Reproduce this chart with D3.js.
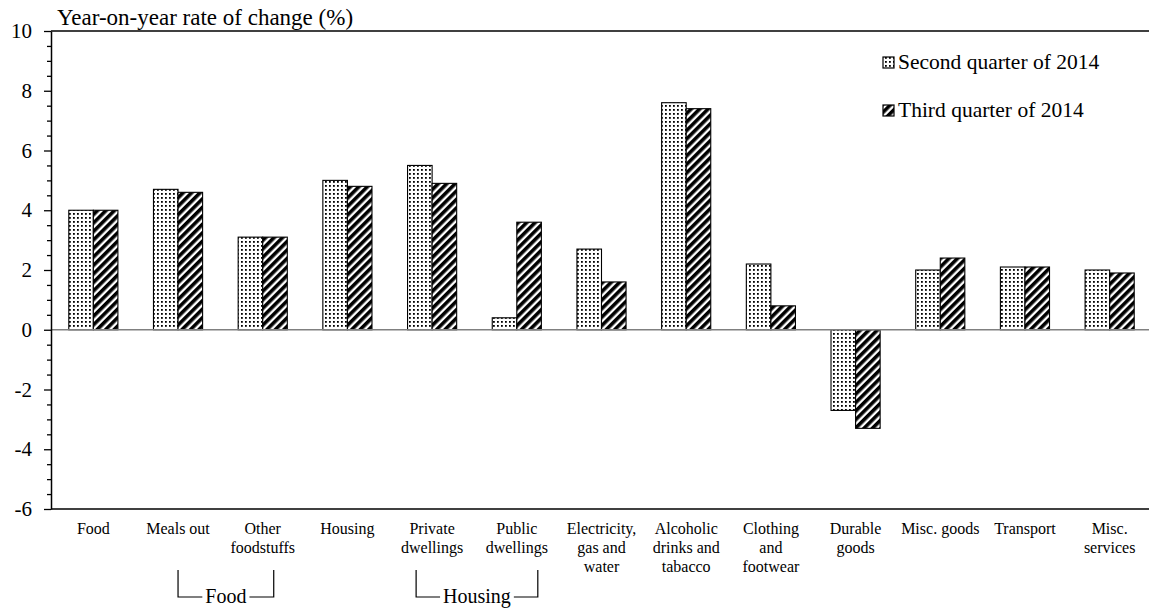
<!DOCTYPE html>
<html><head><meta charset="utf-8">
<script src="https://cdn.jsdelivr.net/npm/d3@7"></script>
<style>
html,body{margin:0;padding:0;background:#fff;}
svg{display:block;}
svg text{font-family:"Liberation Serif","Times New Roman",serif !important;fill:#000;}
</style></head>
<body>
<svg id="chart" width="1149" height="610"></svg>
<script>
const categories = ["Food","Meals out","Other foodstuffs","Housing","Private dwellings","Public dwellings","Electricity, gas and water","Alcoholic drinks and tabacco","Clothing and footwear","Durable goods","Misc. goods","Transport","Misc. services"];
const categoryLines = [["Food"],["Meals out"],["Other","foodstuffs"],["Housing"],["Private","dwellings"],["Public","dwellings"],["Electricity,","gas and","water"],["Alcoholic","drinks and","tabacco"],["Clothing","and","footwear"],["Durable","goods"],["Misc. goods"],["Transport"],["Misc.","services"]];
const seriesNames = ["Second quarter of 2014","Third quarter of 2014"];
const q2 = [4.0,4.7,3.1,5.0,5.5,0.4,2.7,7.6,2.2,-2.7,2.0,2.1,2.0];
const q3 = [4.0,4.6,3.1,4.8,4.9,3.6,1.6,7.4,0.8,-3.3,2.4,2.1,1.9];
const yMajorTicks = [-6,-4,-2,0,2,4,6,8,10];
const yTitle = "Year-on-year rate of change (%)";
const groups = [{label:"Food", from:"Meals out", to:"Other foodstuffs", dl:0, dr:11},
                {label:"Housing", from:"Private dwellings", to:"Public dwellings", dl:-16, dr:21}];

const svg = d3.select("#chart");
const L = 51, R = 1152, T = 31, B = 509;
const y = d3.scaleLinear().domain([-6,10]).range([B,T]);
const x0 = d3.scaleBand().domain(categories).range([L,R]).paddingInner(0.42).paddingOuter(0.21);
const x1 = d3.scaleBand().domain([0,1]).range([0,x0.bandwidth()]);

// patterns
const defs = svg.append("defs");
const pd = defs.append("pattern").attr("id","dots").attr("patternUnits","userSpaceOnUse")
  .attr("width",4).attr("height",4);
pd.append("rect").attr("width",4).attr("height",4).attr("fill","#fff");
pd.append("rect").attr("x",1).attr("y",1).attr("width",1.8).attr("height",1.8).attr("fill","#000");
const ph = defs.append("pattern").attr("id","hatch").attr("patternUnits","userSpaceOnUse")
  .attr("width",6).attr("height",6).attr("patternTransform","rotate(45)");
ph.append("rect").attr("width",6).attr("height",6).attr("fill","#fff");
ph.append("rect").attr("width",3.6).attr("height",6).attr("fill","#000");
const fills = ["url(#dots)","url(#hatch)"];

// frame lines
svg.append("line").attr("x1",L).attr("x2",1149).attr("y1",T).attr("y2",T).attr("stroke","#000").attr("stroke-width",1.5);
svg.append("line").attr("x1",L).attr("x2",1149).attr("y1",B).attr("y2",B).attr("stroke","#000").attr("stroke-width",1.5);

// bars
const series = [q2,q3];
series.forEach((vals,si)=>{
  svg.append("g").selectAll("rect").data(vals).join("rect")
    .attr("x",(d,i)=>x0(categories[i])+x1(si))
    .attr("width",x1.bandwidth())
    .attr("y",d=>y(Math.max(0,d)))
    .attr("height",d=>Math.abs(y(d)-y(0)))
    .attr("fill",fills[si]).attr("stroke","#000").attr("stroke-width",1.1);
});

// zero line
svg.append("line").attr("x1",L).attr("x2",1149).attr("y1",y(0)).attr("y2",y(0)).attr("stroke","#808080").attr("stroke-width",1.5);

// y axis
const minor = d3.range(-6,10.01,0.5).filter(v=>!yMajorTicks.includes(v));
const gMinor = svg.append("g").attr("transform",`translate(${L},0)`)
  .call(d3.axisLeft(y).tickValues(minor).tickSize(4).tickFormat(""));
gMinor.select(".domain").remove();
gMinor.selectAll("line").attr("stroke","#000").attr("stroke-width",1.3);
const gY = svg.append("g").attr("transform",`translate(${L},0)`)
  .call(d3.axisLeft(y).tickValues(yMajorTicks).tickSize(7).tickSizeOuter(0).tickPadding(12).tickFormat(d=>String(d)));
gY.select(".domain").attr("stroke","#000").attr("stroke-width",1.5);
gY.selectAll("line").attr("stroke","#000").attr("stroke-width",1.3);
gY.selectAll("text").attr("font-size",21).attr("fill","#000");

// title
svg.append("text").attr("x",57).attr("y",25).attr("font-size",23).text(yTitle);

// category labels
categories.forEach((c,i)=>{
  const t = svg.append("text").attr("x",x0(c)+x0.bandwidth()/2).attr("y",534)
    .attr("text-anchor","middle").attr("font-size",16);
  categoryLines[i].forEach((ln,j)=>{
    t.append("tspan").attr("x",x0(c)+x0.bandwidth()/2).attr("dy",j===0?0:18.8).text(ln);
  });
});

// group brackets
groups.forEach(g=>{
  const xl = x0(g.from)+x0.bandwidth()/2+g.dl;
  const xr = x0(g.to)+x0.bandwidth()/2+g.dr;
  const yt = 570, yb = 597;
  const t = svg.append("text").attr("x",(xl+xr)/2).attr("y",yb+6).attr("text-anchor","middle").attr("font-size",20).text(g.label);
  const w = t.node().getComputedTextLength();
  const mid = (xl+xr)/2;
  svg.append("path").attr("d",`M${xl},${yt}V${yb}H${mid-w/2-3}`).attr("fill","none").attr("stroke","#000").attr("stroke-width",1.2);
  svg.append("path").attr("d",`M${mid+w/2+3},${yb}H${xr}V${yt}`).attr("fill","none").attr("stroke","#000").attr("stroke-width",1.2);
});

// legend
seriesNames.forEach((s,i)=>{
  const yy = 62 + i*48;
  svg.append("rect").attr("x",883).attr("y",yy-5).attr("width",11).attr("height",11)
    .attr("fill",fills[i]).attr("stroke","#000").attr("stroke-width",1.2);
  svg.append("text").attr("x",898).attr("y",yy+7).attr("font-size",21.5).text(s);
});
</script>
</body></html>
